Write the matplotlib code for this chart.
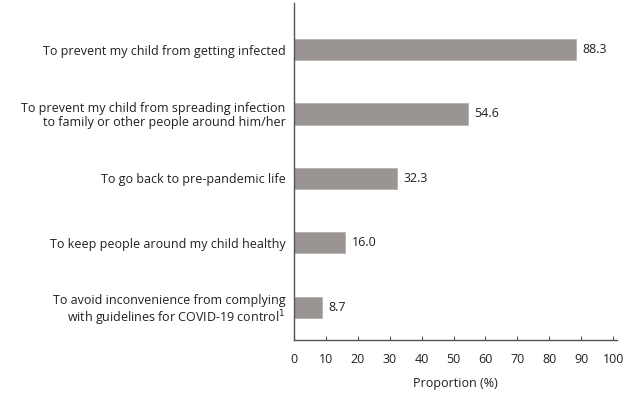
import numpy as np
import matplotlib
matplotlib.use('Agg')
import matplotlib.pyplot as plt

plt.rcParams['font.family'] = ['Open Sans', 'DejaVu Sans']

reasons = ["To prevent my child from getting infected",
           "To prevent my child from spreading infection\nto family or other people around him/her",
           "To go back to pre-pandemic life",
           "To keep people around my child healthy",
           "To avoid inconvenience from complying\nwith guidelines for COVID-19 control$^{1}$"]
proportions = [88.3, 54.6, 32.3, 16.0, 8.7]

fig = plt.figure(figsize=(6.42, 4.01), dpi=100)
ax = fig.add_axes([0.458, 0.152, 0.503, 0.84])

ypos = np.arange(len(reasons))[::-1]
ax.barh(ypos, proportions, height=0.33, color='#9a9592', edgecolor='#b5b1ae', linewidth=0.6)

for y, v in zip(ypos, proportions):
    ax.text(v + 2, y, '%.1f' % v, va='center', ha='left', fontsize=9, color='#231f20')

ax.set_yticks(ypos)
ax.set_yticklabels(reasons, fontsize=9, color='#231f20', linespacing=1.1)
ax.tick_params(axis='y', length=0, pad=6)
ax.set_xlim(0, 101.2)
ax.set_ylim(-0.51, 4.72)
ax.set_xticks(np.arange(0, 101, 10))
ax.tick_params(axis='x', direction='in', length=3, color='#555555', labelsize=9,
               labelcolor='#231f20', pad=9)
ax.set_xlabel('Proportion (%)', fontsize=9, color='#231f20', labelpad=8)

for s in ['top', 'right']:
    ax.spines[s].set_visible(False)
for s in ['left', 'bottom']:
    ax.spines[s].set_color('#555555')
    ax.spines[s].set_linewidth(1.0)

fig.savefig('out.png', dpi=100)
